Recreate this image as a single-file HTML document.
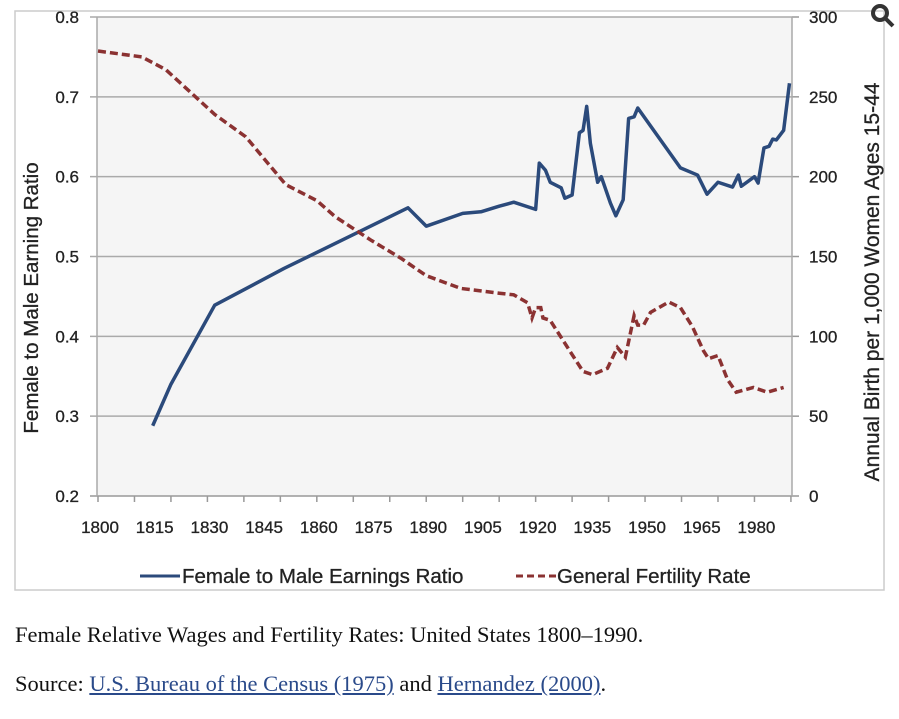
<!DOCTYPE html>
<html><head><meta charset="utf-8"><style>
body{margin:0;background:#fff;width:899px;height:719px;overflow:hidden;position:relative;font-family:"Liberation Sans",sans-serif}
.cap{position:absolute;left:15px;font-family:"Liberation Serif",serif;font-size:22.5px;color:#111;white-space:nowrap}
a{color:#2a4a8a;text-decoration:underline}
</style></head><body>
<svg id="chart" width="899" height="600" style="position:absolute;left:0;top:0">
<rect x="15" y="11" width="869" height="579" fill="#fff" stroke="#ccc" stroke-width="1.5"/>
<rect x="97" y="17" width="695" height="479" fill="#f5f5f5"/>
<g id="grid"></g><g id="axes"></g><g id="series"></g>
<text transform="translate(38,298) rotate(-90)" text-anchor="middle" font-size="20.5" fill="#222" stroke="#222" stroke-width="0.3">Female to Male Earning Ratio</text>
<text transform="translate(879,282) rotate(-90)" text-anchor="middle" font-size="21" fill="#222" stroke="#222" stroke-width="0.3">Annual Birth per 1,000 Women Ages 15-44</text>
<g>
<line x1="140" y1="576" x2="180" y2="576" stroke="#2b4a7b" stroke-width="3"/>
<text x="182" y="583" font-size="20.5" fill="#222" stroke="#222" stroke-width="0.3">Female to Male Earnings Ratio</text>
<line x1="516" y1="576" x2="556" y2="576" stroke="#8b3232" stroke-width="3" stroke-dasharray="7,4"/>
<text x="557" y="583" font-size="20.5" fill="#222" stroke="#222" stroke-width="0.3">General Fertility Rate</text>
</g>
<g><circle cx="880" cy="13" r="7" fill="none" stroke="#333" stroke-width="4"/><line x1="885" y1="18" x2="893" y2="26" stroke="#333" stroke-width="4"/></g>
</svg>
<div class="cap" style="top:622px">Female Relative Wages and Fertility Rates: United States 1800–1990.</div>
<div class="cap" style="top:671px">Source: <a>U.S. Bureau of the Census (1975)</a> and <a>Hernandez (2000)</a>.</div>
<script>
const earnYears=[1815,1820,1832,1851,1864,1885,1890,1900,1905,1910,1914,1920,1921,1922.7,1924,1927,1928,1930,1932,1933,1934,1935,1937,1938,1940.5,1942,1944,1945.5,1947,1948,1959.7,1964.4,1967,1970,1974,1975.6,1976.4,1980,1981,1982.6,1984,1985,1986,1988,1989.6];
const earnVals=[0.288,0.34,0.439,0.485,0.514,0.561,0.538,0.554,0.556,0.563,0.568,0.559,0.617,0.608,0.593,0.586,0.573,0.577,0.655,0.658,0.688,0.642,0.593,0.60,0.567,0.551,0.571,0.673,0.675,0.686,0.611,0.602,0.578,0.593,0.587,0.602,0.588,0.60,0.592,0.636,0.638,0.647,0.646,0.658,0.717];
const fertYears=[1800,1812,1818.6,1832,1840.5,1851.5,1860,1865,1875,1883,1890,1899.5,1910,1914,1917.8,1919,1920,1921.4,1922,1924,1929.6,1933,1935.6,1939.7,1942.4,1944.6,1947,1948,1949.6,1951.5,1956.5,1959.7,1963,1966,1967.4,1970,1972.6,1975,1979.7,1983.5,1988];
const fertVals=[278.7,275,267,239,225,195,185,175,160,149,138,130,127,126,121,111.5,118,118,111.5,110,90,78,76,80,93,87,113,107,107,115,121.5,118,106,91,86,88,73,65,68,65,68];
const leftTicks=[0.2,0.3,0.4,0.5,0.6,0.7,0.8];
const rightTicks=[0,50,100,150,200,250,300];
const xLabels=[1800,1815,1830,1845,1860,1875,1890,1905,1920,1935,1950,1965,1980];
const NS="http://www.w3.org/2000/svg";
const X=y=>98+(y-1800)*3.647;
const YL=v=>496-(v-0.2)/0.6*479;
const YR=v=>496-v/300*479;
function mk(t,a,p){const e=document.createElementNS(NS,t);for(const k in a)e.setAttribute(k,a[k]);document.getElementById(p).appendChild(e);return e;}
leftTicks.forEach(v=>{
 const l=mk('line',{x1:90,x2:792,y1:YL(v),y2:YL(v),stroke:v==0.2?'#999':'#aaa','stroke-width':1.5},'grid');
 
 
 const t=mk('text',{x:79,y:YL(v)+6,'text-anchor':'end','font-size':17,fill:'#222',stroke:'#222','stroke-width':0.3},'axes');t.textContent=v.toFixed(1);
 
 
});
rightTicks.forEach(v=>{
 mk('line',{x1:792,x2:799,y1:YR(v),y2:YR(v),stroke:'#999','stroke-width':1.5},'axes');
 const t=mk('text',{x:809,y:YR(v)+6,'font-size':17,fill:'#222',stroke:'#222','stroke-width':0.3},'axes');t.textContent=v;
 
 
});
mk('line',{x1:97,x2:97,y1:17,y2:496,stroke:'#aaa','stroke-width':1.5},'axes');
mk('line',{x1:792,x2:792,y1:17,y2:496,stroke:'#aaa','stroke-width':1.5},'axes');
for(let y=1800;y<=1990;y+=10)mk('line',{x1:X(y),x2:X(y),y1:496,y2:502,stroke:'#999','stroke-width':1.5},'axes');
xLabels.forEach(y=>{const t=mk('text',{x:X(y)+2,y:533,'text-anchor':'middle','font-size':17,fill:'#222',stroke:'#222','stroke-width':0.3},'axes');t.textContent=y;
 
 });
const e=mk('polyline',{points:earnYears.map((y,i)=>X(y)+','+YL(earnVals[i])).join(' '),fill:'none',stroke:'#2b4a7b','stroke-width':3.5,'stroke-linejoin':'round'},'series');


const f=mk('polyline',{points:fertYears.map((y,i)=>X(y)+','+YR(fertVals[i])).join(' '),fill:'none',stroke:'#8b3232','stroke-width':3.5,'stroke-dasharray':'8,4'},'series');


</script>
</body></html>
